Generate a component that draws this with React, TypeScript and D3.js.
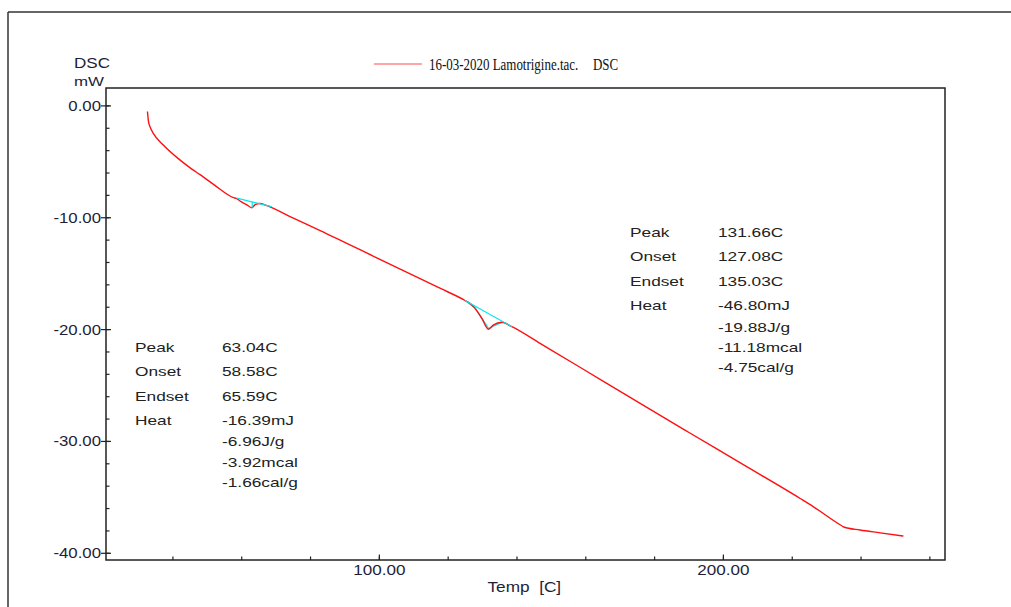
import React from "react";
import * as d3 from "d3";

// ---- data ----
const temps = [32.6, 32.9, 33.4, 34.3, 37.2, 42.1, 45.5, 47.9, 52.0, 57.6, 58.6, 59.5, 61.5, 62.9, 64.0, 65.3, 67.3, 75.0, 82.8, 100.0, 117.6, 124.9, 126.5, 127.8, 129.8, 131.7, 133.1, 135.6, 138.5, 146.7, 149.6, 160.0, 175.8, 190.0, 204.8, 222.3, 226.2, 233.9, 235.0, 239.7, 245.6, 252.3];
const dscValues = [-0.5, -1.4, -1.9, -2.45, -3.5, -4.85, -5.65, -6.15, -7.06, -8.2, -8.3, -8.5, -8.85, -9.1, -8.8, -8.72, -8.92, -10.04, -11.15, -13.7, -16.3, -17.4, -17.7, -18.1, -19.0, -19.97, -19.6, -19.35, -19.74, -21.23, -21.76, -23.68, -26.6, -29.2, -31.9, -35.1, -35.85, -37.45, -37.65, -37.92, -38.17, -38.46];

const peak1Baseline: [number, number][] = [[58.58, -8.25], [68.7, -9.0]];
const peak1Drop: [number, number][] = [[63.04, -9.1], [63.04, -8.58]];
const peak2Baseline: [number, number][] = [[124.9, -17.4], [138.5, -19.74]];
const peak2Tangent: [number, number][] = [[124.9, -17.4], [127.8, -18.05], [131.7, -19.9], [135.6, -19.35]];

const xMinorTicks = [40, 60, 80, 100, 120, 140, 160, 180, 200, 220, 240, 260];
const xMajorTicks = [100, 200];
const yMinorTicks = d3.range(-40, 0.1, 2);
const yMajorTicks = [0, -10, -20, -30, -40];

const leftLabels = ["Peak", "Onset", "Endset", "Heat"];
const leftValues = ["63.04C", "58.58C", "65.59C", "-16.39mJ", "-6.96J/g", "-3.92mcal", "-1.66cal/g"];
const rightLabels = ["Peak", "Onset", "Endset", "Heat"];
const rightValues = ["131.66C", "127.08C", "135.03C", "-46.80mJ", "-19.88J/g", "-11.18mcal", "-4.75cal/g"];

const legendText = "16-03-2020 Lamotrigine.tac.";
const legendSuffix = "DSC";

// ---- layout ----
const W = 1011, H = 607;
const L = 106, R = 945, T = 88, B = 560;
const sans = "'Liberation Sans', Arial, sans-serif";
const serif = "'Liberation Serif', 'Times New Roman', serif";

function SText({ x, y, sx = 1.25, size = 14, anchor = "start", fill = "#222", family = sans, children }: any) {
  return (
    <text transform={`translate(${x},${y}) scale(${sx},1)`} fontSize={size} fontFamily={family} textAnchor={anchor} fill={fill} style={{ whiteSpace: "pre" }}>
      {children}
    </text>
  );
}

export default function App() {
  const x = d3.scaleLinear().domain([20.55, 264.4]).range([L, R]);
  const y = d3.scaleLinear().domain([-40.6, 1.6]).range([B, T]);
  const pts: [number, number][] = temps.map((t, i) => [t, dscValues[i]]);
  const curve = d3.line<[number, number]>().x(d => x(d[0])).y(d => y(d[1])).curve(d3.curveMonotoneX);
  const lin = d3.line<[number, number]>().x(d => x(d[0])).y(d => y(d[1]));

  const leftRowsY = [351.7, 375.7, 401, 425, 445.7, 466.7, 487.3];
  const rightRowsY = [236.7, 260.7, 286, 310, 331.7, 352.3, 371.7];

  return (
    <svg width={W} height={H} style={{ position: "absolute", left: 0, top: 0, background: "#fff" }}>
      <rect x={0} y={0} width={W} height={H} fill="#fff" />
      {/* outer frame */}
      <line x1={8} y1={12} x2={W} y2={12} stroke="#333" strokeWidth={1.5} />
      <line x1={8} y1={12} x2={8} y2={H} stroke="#333" strokeWidth={1.5} />

      {/* legend */}
      <line x1={374} y1={64} x2={422} y2={64} stroke="#ff4d4d" strokeWidth={1.2} />
      <SText x={429} y={70} sx={0.81} size={16} family={serif} fill="#111">{legendText}</SText>
      <SText x={593} y={70} sx={0.81} size={16} family={serif} fill="#111">{legendSuffix}</SText>

      {/* axis titles */}
      <SText x={74} y={68} sx={1.22} size={14} fill="#1e1e38">DSC</SText>
      <SText x={74} y={86} sx={1.25} size={13.5} fill="#1e1e38">mW</SText>
      <SText x={487.5} y={592} sx={1.23} size={14} fill="#1e1e38">{"Temp\u00a0\u00a0[C]"}</SText>

      {/* plot frame */}
      <rect x={L} y={T} width={R - L} height={B - T} fill="none" stroke="#222" strokeWidth={1.5} />

      {/* y ticks */}
      {yMinorTicks.map(v => (
        <line key={"ym" + v} x1={L} x2={L + 3.5} y1={y(v)} y2={y(v)} stroke="#222" strokeWidth={1.2} />
      ))}
      {yMajorTicks.map(v => (
        <g key={"yM" + v}>
          <line x1={L - 5} x2={L + 5} y1={y(v)} y2={y(v)} stroke="#222" strokeWidth={1.2} />
          <SText x={101} y={y(v) + 5} sx={1.2} size={14} anchor="end" fill="#1e1e38">{v.toFixed(2)}</SText>
        </g>
      ))}

      {/* x ticks */}
      {xMinorTicks.map(v => (
        <line key={"xm" + v} x1={x(v)} x2={x(v)} y1={B} y2={B - 3.5} stroke="#222" strokeWidth={1.2} />
      ))}
      {xMajorTicks.map(v => (
        <g key={"xM" + v}>
          <line x1={x(v)} x2={x(v)} y1={B} y2={B - 5.5} stroke="#222" strokeWidth={1.2} />
          <SText x={x(v)} y={575} sx={1.22} size={14} anchor="middle" fill="#1e1e38">{v.toFixed(2)}</SText>
        </g>
      ))}

      {/* analysis lines & curve */}
      <path d={lin(peak2Tangent) || ""} fill="none" stroke="#00e8f0" strokeWidth={1.3} />
      <path d={curve(pts) || ""} fill="none" stroke="#ff1010" strokeWidth={1.4} />
      <path d={lin(peak1Baseline) || ""} fill="none" stroke="#00e8f0" strokeWidth={1.2} />
      <path d={lin(peak1Drop) || ""} fill="none" stroke="#00e8f0" strokeWidth={1.2} />
      <path d={lin(peak2Baseline) || ""} fill="none" stroke="#00e8f0" strokeWidth={1.2} />

      {/* annotations */}
      {leftLabels.map((t, i) => (
        <SText key={"ll" + i} x={135} y={leftRowsY[i]} sx={1.33} size={13}>{t}</SText>
      ))}
      {leftValues.map((t, i) => (
        <SText key={"lv" + i} x={222} y={leftRowsY[i]} sx={1.33} size={13}>{t}</SText>
      ))}
      {rightLabels.map((t, i) => (
        <SText key={"rl" + i} x={630} y={rightRowsY[i]} sx={1.33} size={13}>{t}</SText>
      ))}
      {rightValues.map((t, i) => (
        <SText key={"rv" + i} x={718} y={rightRowsY[i]} sx={1.33} size={13}>{t}</SText>
      ))}
    </svg>
  );
}
